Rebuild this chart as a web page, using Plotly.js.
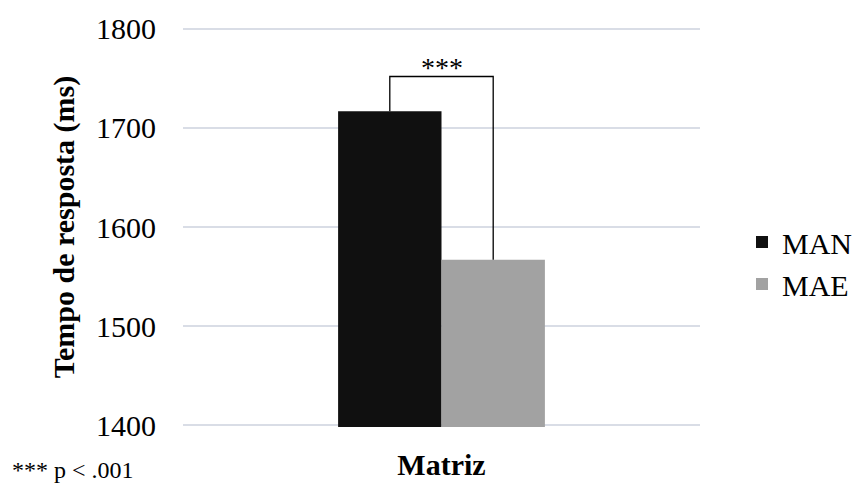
<!DOCTYPE html>
<html><head><meta charset="utf-8">
<script src="https://cdn.plot.ly/plotly-3.0.1.min.js"></script>
<style>html,body{margin:0;padding:0;background:#fff}#chart{width:861px;height:486px}</style>
</head><body><div id="chart"></div>
<script>
const categories = ['Matriz'];
const seriesNames = ['MAN', 'MAE'];
const manValues = [1717];
const maeValues = [1567];
const seriesColors = ['#101010', '#a2a2a2'];
const bracketTop = 1752;
const sigLabel = '***';
const footnote = '*** p < .001';
const yTitle = 'Tempo de resposta (ms)';
const xTitle = 'Matriz';

const font = '"Liberation Serif", "Times New Roman", serif';
const bargap = 0.6;
const half = (1 - bargap) / 4;

const traces = [
  {type:'bar', name:seriesNames[0], x:categories, y:manValues, marker:{color:seriesColors[0]}},
  {type:'bar', name:seriesNames[1], x:categories, y:maeValues, marker:{color:seriesColors[1]}}
];

const xl = -half, xr = half;
const shapes = [{
  type:'path', xref:'x', yref:'y',
  path:`M ${xl},${manValues[0]} L ${xl},${bracketTop} L ${xr},${bracketTop} L ${xr},${maeValues[0]}`,
  line:{color:'#000', width:1.3}
}];

const W = 861, H = 486;

const layout = {
  width:W, height:H,
  margin:{l:183, r:161, t:27, b:59},
  paper_bgcolor:'#fff', plot_bgcolor:'#fff',
  barmode:'group', bargap:bargap, bargroupgap:0,
  font:{family:font, color:'#000'},
  showlegend:true,
  legend:{xref:'container', yref:'container', x:742 / W, xanchor:'left', y:1 - 263 / H, yanchor:'middle',
          font:{size:30, family:font}, itemwidth:30, tracegroupgap:0, bgcolor:'rgba(0,0,0,0)'},
  xaxis:{showticklabels:false, showgrid:false, zeroline:false, showline:false,
         title:{text:'<b>'+xTitle+'</b>', font:{size:30, family:font}, standoff:26}},
  yaxis:{range:[1398, 1802], dtick:100, tick0:1400, gridcolor:'#d9dde6', gridwidth:1.3,
         zeroline:false, showline:false, ticks:'', ticklabelstandoff:26,
         tickfont:{size:30, family:font},
         title:{text:'<b>'+yTitle+'</b>', font:{size:30, family:font}, standoff:12}},
  shapes:shapes,
  annotations:[
    {xref:'x', yref:'y', x:0, y:bracketTop, text:sigLabel, showarrow:false, yanchor:'bottom',
     font:{size:28, family:font}, yshift:-8},
    {xref:'paper', yref:'paper', x:(10 - 183) / 517, y:-0.07, xanchor:'left', yanchor:'top', text:footnote,
     showarrow:false, font:{size:24, family:font}}
  ]
};

Plotly.newPlot('chart', traces, layout, {displayModeBar:false, staticPlot:true});
</script></body></html>
